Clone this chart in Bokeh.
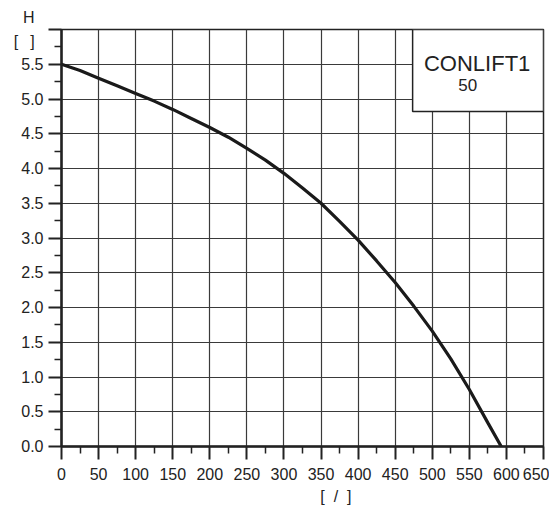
from bokeh.plotting import figure
from bokeh.models import FixedTicker, Range1d, Label, BoxAnnotation, LinearAxis
from bokeh.embed import file_html
from bokeh.resources import INLINE

# Data
flow = [0, 25, 50, 75, 100, 125, 150, 175, 200, 225, 250, 275, 300, 325, 350,
        375, 400, 425, 450, 475, 500, 525, 550, 575, 593]
head = [5.50, 5.41, 5.30, 5.19, 5.08, 4.97, 4.85, 4.72, 4.59, 4.45, 4.29, 4.12,
        3.93, 3.72, 3.50, 3.24, 2.97, 2.67, 2.36, 2.02, 1.66, 1.26, 0.82, 0.34, 0.0]

title_main = "CONLIFT1"
title_sub = "50"
y_name = "H"
y_unit = "[\u00a0\u00a0\u2009]"
x_unit = "[\u00a0\u00a0/\u00a0\u00a0]"

x_ticks = list(range(0, 651, 50))
x_minor = list(range(25, 650, 50))
y_ticks = [i * 0.5 for i in range(0, 13)]
y_minor = [0.25 + i * 0.5 for i in range(0, 12)]
# top tick (6.0) carries the quantity name and its unit instead of a number
y_labels = {t: f"{t:.1f}" for t in y_ticks}
y_labels[6.0] = y_name + "\u00a0\u00a0\n" + y_unit + "\u00a0\u00a0"
x_labels = {t: str(t) for t in x_ticks}

FONT = "Liberation Sans"
INK = "#222222"

p = figure(width=549, height=507, output_backend="svg", toolbar_location=None,
           x_range=Range1d(0, 650), y_range=Range1d(0, 6.0),
           min_border_left=61, min_border_top=29, min_border_right=6,
           min_border_bottom=60)
p.background_fill_color = "white"
p.border_fill_color = "white"
p.outline_line_color = INK
p.outline_line_width = 1.5

for ax, ticks, minor, labels in ((p.xaxis[0], x_ticks, x_minor, x_labels),
                                  (p.yaxis[0], y_ticks, y_minor, y_labels)):
    ax.ticker = FixedTicker(ticks=ticks, minor_ticks=minor)
    ax.major_label_overrides = labels
    ax.axis_line_width = 2.5
    ax.axis_line_color = INK
    ax.major_tick_line_color = INK
    ax.major_tick_line_width = 2
    ax.major_tick_out = 13
    ax.major_tick_in = 0
    ax.minor_tick_line_color = INK
    ax.minor_tick_line_width = 1.5
    ax.minor_tick_out = 7
    ax.minor_tick_in = 0
    ax.major_label_text_font = FONT
    ax.major_label_text_font_size = "16px"
    ax.major_label_text_color = INK

p.yaxis[0].major_label_standoff = 5
p.yaxis[0].major_label_text_line_height = 1.4
p.xaxis[0].major_label_standoff = 8

# unit of the flow axis, placed through a second (label-only) axis
unit_axis = LinearAxis(ticker=FixedTicker(ticks=[370], minor_ticks=[]),
                       major_label_overrides={370: x_unit},
                       axis_line_color=None, major_tick_line_color=None,
                       minor_tick_line_color=None, major_tick_out=0,
                       major_label_standoff=5, major_label_text_font=FONT,
                       major_label_text_font_size="16px",
                       major_label_text_color=INK)
p.add_layout(unit_axis, "below")

p.xgrid.ticker = FixedTicker(ticks=x_ticks)
p.ygrid.ticker = FixedTicker(ticks=y_ticks)
for g in (p.xgrid[0], p.ygrid[0]):
    g.grid_line_color = "#3a3a3a"
    g.grid_line_width = 1.2

p.line(flow, head, line_color="#1a1a1a", line_width=3.2)

p.add_layout(BoxAnnotation(left=473.5, right=650, bottom=4.82, top=6.0,
                           fill_color="white", fill_alpha=1.0,
                           line_color=INK, line_width=1.5, line_alpha=1.0))

def lab(x, y, t, size):
    p.add_layout(Label(x=x, y=y, text=t, text_font=FONT, text_font_size=size,
                       text_color=INK, text_align="center",
                       text_baseline="middle"))

lab(560.5, 5.51, title_main, "22px")
lab(547.7, 5.20, title_sub, "17px")

open("out.html", "w").write(file_html(p, INLINE))
